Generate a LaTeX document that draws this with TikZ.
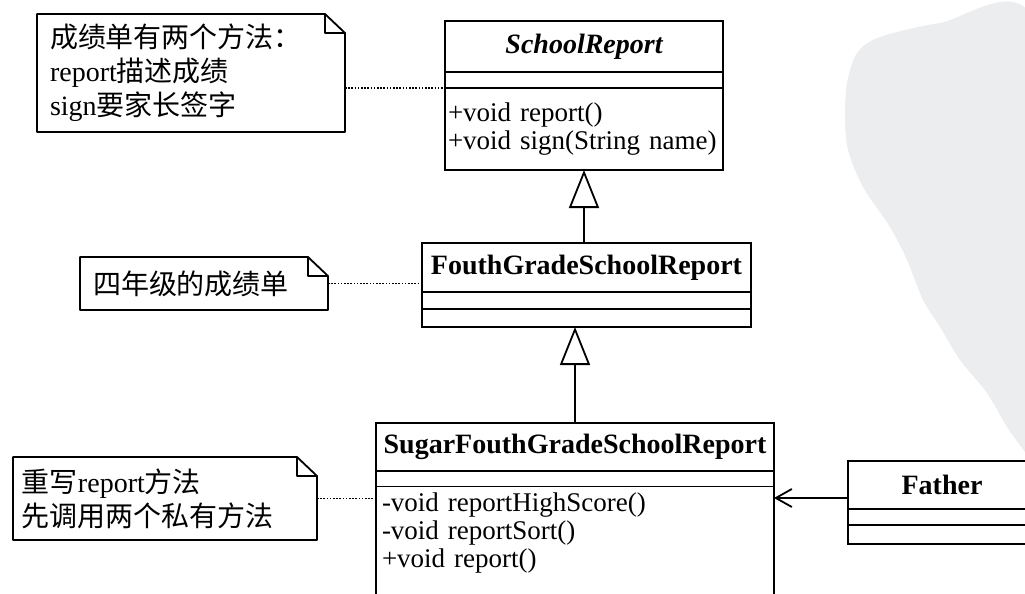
\documentclass[tikz,border=0pt]{standalone}
\usepackage{fontspec}
\setmainfont{Liberation Serif}
\newfontfamily\cjk{Noto Sans CJK SC}
\usetikzlibrary{positioning, arrows.meta}
\definecolor{wmark}{HTML}{ECEDEF}
\newcommand{\notefold}[1]{%
  \draw[notebox] (#1.north west) -- ([xshift=-10pt]#1.north east) -- ([yshift=-9.5pt]#1.north east)
    -- (#1.south east) -- (#1.south west) -- cycle
    ([xshift=-10pt]#1.north east) -- ([xshift=-10pt,yshift=-9.5pt]#1.north east) -- ([yshift=-9.5pt]#1.north east);}

\begin{document}
\begin{tikzpicture}[x=0.5pt,y=-0.5pt,>={Straight Barb[length=8pt,width=9pt]},
    cname/.style={draw,fill=white,line width=0.9pt,outer sep=0pt,minimum width=#1,minimum height=24pt,
      inner sep=0pt,font=\fontsize{14}{14}\selectfont\bfseries},
    cpart/.style={draw,fill=white,line width=0.9pt,outer sep=0pt,minimum width=#1,minimum height=8pt,inner sep=0pt},
    cmeth/.style={draw,fill=white,line width=0.9pt,outer sep=0pt,text width=#1,inner xsep=3pt,inner ysep=3pt,
      align=left,font=\fontsize{13.5}{14}\selectfont},
    note/.style={text width=#1,inner xsep=6.5pt,inner ysep=0pt,outer sep=0pt,align=left,
      font=\fontsize{14}{17}\selectfont},
    notebox/.style={line width=0.9pt,line join=round},
    link/.style={line width=0.6pt,dash pattern=on 0.8pt off 0.8pt},
    gen/.style={line width=0.9pt,-{Triangle[open,length=19pt,width=15pt]}}]
    \useasboundingbox (0,0) rectangle (1025,594);
    \clip (0,0) rectangle (1025,594);
    \fill[wmark] plot[smooth cycle] coordinates {(1030,14) (940,23) (880,37) (857,53) (847,83) (845,117)
      (848,150) (863,187) (890,227) (907,260) (923,300) (940,327) (960,360) (987,393) (1007,427)
      (1025,452) (1045,480) (1070,250)};

    \node[cname=139pt,anchor=north west,minimum height=25.5pt,
      font=\fontsize{14}{14}\selectfont\bfseries\itshape] (sr) at (445,21) {SchoolReport};
    \node[cpart=139pt,below=0pt of sr] (sr-a) {};
    \node[cmeth=136pt,inner xsep=1.5pt,below=0pt of sr-a,minimum height=41pt] (sr-m)
      {+void report()\\+void sign(String name)};

    \node[cname=164.5pt,anchor=north west,minimum height=24.5pt] (fg) at (422,243) {FouthGradeSchoolReport};
    \node[cpart=164.5pt,below=0pt of fg,minimum height=8.5pt] (fg-a) {};
    \node[cpart=164.5pt,below=0pt of fg-a,minimum height=9pt] (fg-m) {};

    \node[cname=199pt,anchor=north west] (su) at (376,423) {SugarFouthGradeSchoolReport};
    \node[cpart=199pt,below=0pt of su] (su-a) {};
    \node[cmeth=193pt,draw=none,below=0pt of su-a] (su-m) {-void reportHighScore()\\-void reportSort()\\+void report()};
    \draw[line width=0.9pt] (su-a.south west) -- ++(0,130) (su-a.south east) -- ++(0,130);

    \node[cname=94pt,anchor=north west] (fa) at (848,461) {Father};
    \node[cpart=94pt,below=0pt of fa] (fa-a) {};
    \node[cpart=94pt,below=0pt of fa-a,minimum height=9.5pt] (fa-m) {};

    \node[note=141pt,anchor=north west,minimum height=59pt] (n1) at (37,14)
      {{\cjk 成绩单有两个方法：}\\report{\cjk 描述成绩}\\sign{\cjk 要家长签字}};
    \node[note=111pt,anchor=north west,minimum height=26.5pt] (n2) at (80,257) {\cjk 四年级的成绩单};
    \node[note=143pt,inner xsep=4.5pt,anchor=north west,minimum height=41.5pt] (n3) at (13,457)
      {{\cjk 重写}report{\cjk 方法}\\{\cjk 先调用两个私有方法}};
    \notefold{n1}
    \notefold{n2}
    \notefold{n3}

    \draw[link] (n1.east |- sr-a.south) -- (sr-a.south west);
    \draw[link] (n2.east) -- (n2.east -| fg.west);
    \draw[link] (n3.east) -- (n3.east -| su.west);
    \draw[gen] (fg.north -| sr-m.south) -- (sr-m.south);
    \draw[gen] (su.north) -- (su.north |- fg-m.south);
    \coordinate[below=6.5pt of fa.west] (fa-in);
    \draw[->,line width=0.9pt] (fa-in) -- (fa-in -| su-m.east);
\end{tikzpicture}
\end{document}
